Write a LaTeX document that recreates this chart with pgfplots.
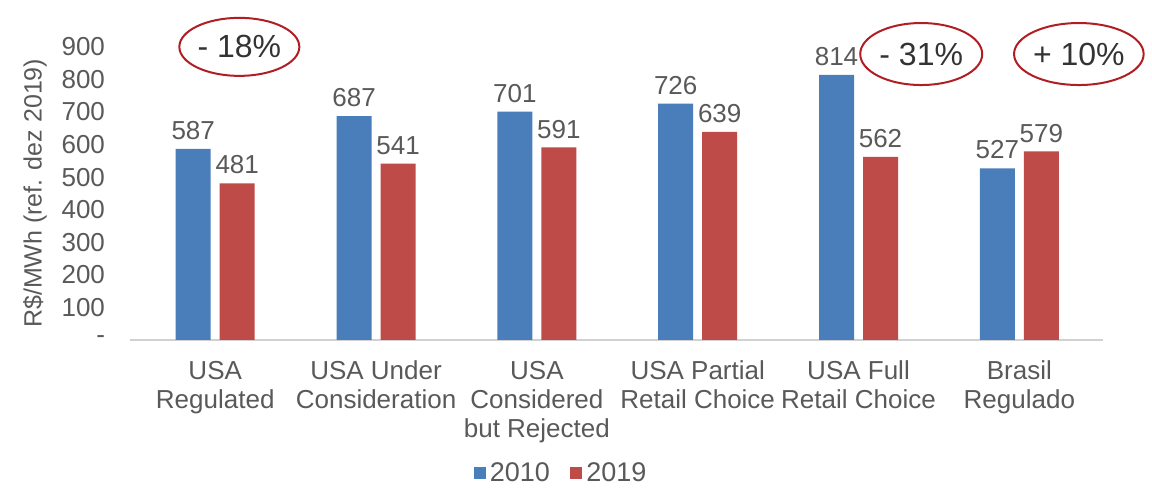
\documentclass[border=0pt]{standalone}
\usepackage{fontspec}
\setmainfont{Liberation Sans}
\usepackage{pgfplots}
\pgfplotsset{compat=1.18}
\usetikzlibrary{shapes.geometric}
\definecolor{barblue}{HTML}{4A7EBB}
\definecolor{barred}{HTML}{BE4B48}
\definecolor{txtgray}{HTML}{595959}
\definecolor{circred}{HTML}{B01E23}

\pgfplotstableread{
x y
0 587
1 687
2 701
3 726
4 814
5 527
}\dataA
\pgfplotstableread{
x y
0 481
1 541
2 591
3 639
4 562
5 579
}\dataB

\begin{document}
\begin{tikzpicture}
\begin{axis}[
  scale only axis,
  width=486.5pt, height=146.5pt,
  ybar=4.5pt, bar width=17.5pt,
  xmin=-0.53, xmax=5.52,
  ymin=0, ymax=900,
  clip=false,
  /pgf/number format/assume math mode=true,
  axis x line*=bottom, axis y line*=left,
  x axis line style={draw=black!18, line width=0.8pt, -},
  y axis line style={draw=none},
  major tick length=0pt,
  xtick={0,...,5},
  xticklabels={USA\\Regulated, USA Under\\Consideration, USA\\Considered\\but Rejected,
    USA Partial\\Retail Choice, USA Full\\Retail Choice, Brasil\\Regulado},
  xticklabel style={align=center, font=\fontsize{13pt}{14.5pt}\selectfont, text=txtgray, yshift=-7pt},
  ytick={0,100,...,900},
  yticklabels={-,100,200,300,400,500,600,700,800,900},
  yticklabel style={font=\fontsize{13pt}{14pt}\selectfont, text=txtgray, anchor=east, xshift=-9pt},
  ylabel={R\$/MWh (ref. dez 2019)},
  ylabel style={font=\fontsize{12.5pt}{14pt}\selectfont, text=txtgray, at={(axis description cs:-0.0976,0.5)}, anchor=center, rotate=0},
  nodes near coords,
  nodes near coords style={font=\fontsize{13pt}{14pt}\selectfont, text=txtgray, yshift=1pt},
  legend style={at={(axis description cs:0.444,-0.455)}, anchor=center, draw=none, fill=none,
    legend columns=2, font=\fontsize{13.5pt}{15pt}\selectfont, text=txtgray,
    /tikz/every even column/.append style={column sep=8pt}},
  legend image code/.code={\fill[#1] (0pt,-3.1pt) rectangle (6.2pt,3.1pt);},
]
\addplot[fill=barblue, draw=none] table[x=x,y=y] {\dataA};
\addplot[fill=barred, draw=none] table[x=x,y=y] {\dataB};
\legend{2010,2019}
\node[draw=circred, line width=1pt, ellipse, minimum width=60pt, minimum height=29pt, inner sep=0pt,
  font=\fontsize{16pt}{18pt}\selectfont, text=black!80] at (axis cs:0.15,900) {- 18\%};
\node[draw=circred, line width=1pt, ellipse, minimum width=61pt, minimum height=31pt, inner sep=0pt,
  font=\fontsize{16pt}{18pt}\selectfont, text=black!80] at (axis cs:4.39,878) {- 31\%};
\node[draw=circred, line width=1pt, ellipse, minimum width=60pt, minimum height=31pt, inner sep=0pt,
  font=\fontsize{16pt}{18pt}\selectfont, text=black!80] at (axis cs:5.37,878) {+ 10\%};
\path (axis description cs:-0.1336,-0.498) (axis description cs:1.0504,1.160);
\end{axis}
\end{tikzpicture}
\end{document}
